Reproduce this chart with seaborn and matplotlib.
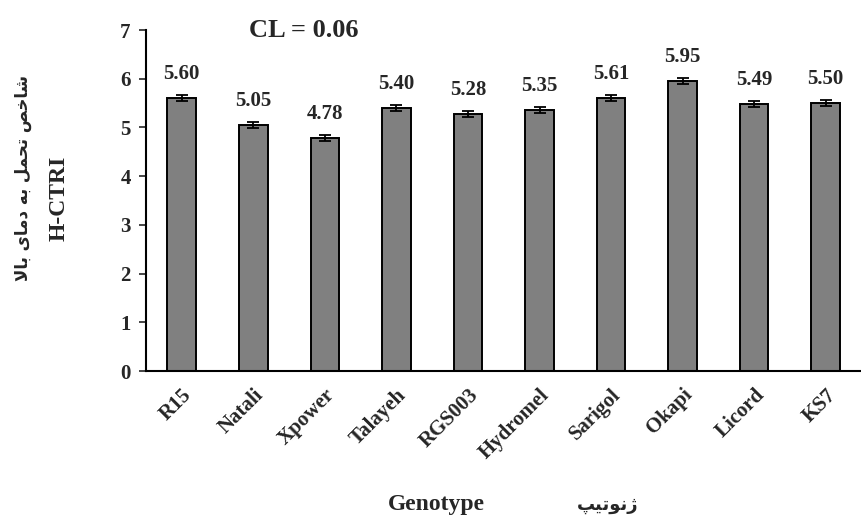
import matplotlib
matplotlib.use('Agg')
import matplotlib.pyplot as plt
import numpy as np
import pandas as pd
import seaborn as sns

genotypes = ['R15', 'Natali', 'Xpower', 'Talayeh', 'RGS003', 'Hydromel',
             'Sarigol', 'Okapi', 'Licord', 'KS7']
hctri = [5.60, 5.05, 4.78, 5.40, 5.28, 5.35, 5.61, 5.95, 5.49, 5.50]
err = [0.06, 0.06, 0.06, 0.06, 0.06, 0.06, 0.06, 0.06, 0.06, 0.06]

# Persian labels written as presentation forms in visual order
# (matplotlib does no Arabic shaping)
fa_ylabel = '\uFEFB\uFE8E\uFE91 \uFEEF\uFE8E\uFEE3\uFEA9 \uFEEA\uFE91 \uFEDE\uFEE4\uFEA4\uFE97 \uFEBA\uFEA7\uFE8E\uFEB7'
fa_xlabel = '\uFB57\uFEF4\uFE97\uFEEE\uFEE7\uFB8A'

df = pd.DataFrame({'genotype': genotypes, 'value': hctri, 'err': err})

sns.set_style('white')
plt.rcParams['font.family'] = ['Liberation Serif', 'DejaVu Sans']
plt.rcParams['font.weight'] = 'bold'

fig = plt.figure(figsize=(8.62, 5.27), dpi=100)
ax = fig.add_axes([0.1694, 0.296, 0.83, 0.647])

sns.barplot(data=df, x='genotype', y='value', color='#808080', edgecolor='black',
            linewidth=1.4, width=0.4, errorbar=None, saturation=1, ax=ax)
ax.errorbar(np.arange(len(df)), df.value, yerr=df.err, fmt='none', ecolor='black',
            elinewidth=1.3, capsize=4, capthick=1.3)

for i, (v, e) in enumerate(zip(df.value, df.err)):
    ax.annotate(f'{v:.2f}', (i, v + e), xytext=(0, 8), textcoords='offset points',
                ha='center', va='bottom', fontsize=15, fontweight='bold')

ax.set_ylim(0, 7)
ax.set_xlim(-0.5, len(df) - 0.5)
ax.set_yticks(range(0, 8))
ax.tick_params(axis='y', direction='out', length=5, width=1.2, labelsize=15, pad=6, left=True)
ax.tick_params(axis='x', length=0, labelsize=15, pad=10)
plt.setp(ax.get_xticklabels(), rotation=45, ha='right', rotation_mode='anchor',
         fontweight='bold')
plt.setp(ax.get_yticklabels(), fontweight='bold')
sns.despine(ax=ax)
for s in ['left', 'bottom']:
    ax.spines[s].set_linewidth(1.5)
    ax.spines[s].set_color('black')

ax.set_xlabel('')
ax.set_ylabel('')
ax.text(0.22, 1.0, 'CL = 0.06', transform=ax.transAxes, ha='center', va='center',
        fontsize=19, fontweight='bold')

fig.text(0.027, 0.662, fa_ylabel, rotation=90, ha='center', va='center',
         fontsize=12, family='DejaVu Sans', fontweight='bold')
fig.text(0.068, 0.624, 'H-CTRI', rotation=90, ha='center', va='center',
         fontsize=17, fontweight='bold')
fig.text(0.506, 0.042, 'Genotype', ha='center', va='center', fontsize=17,
         fontweight='bold')
fig.text(0.705, 0.042, fa_xlabel, ha='center', va='center', fontsize=13,
         family='DejaVu Sans', fontweight='bold')

fig.savefig('out.png', dpi=100)
